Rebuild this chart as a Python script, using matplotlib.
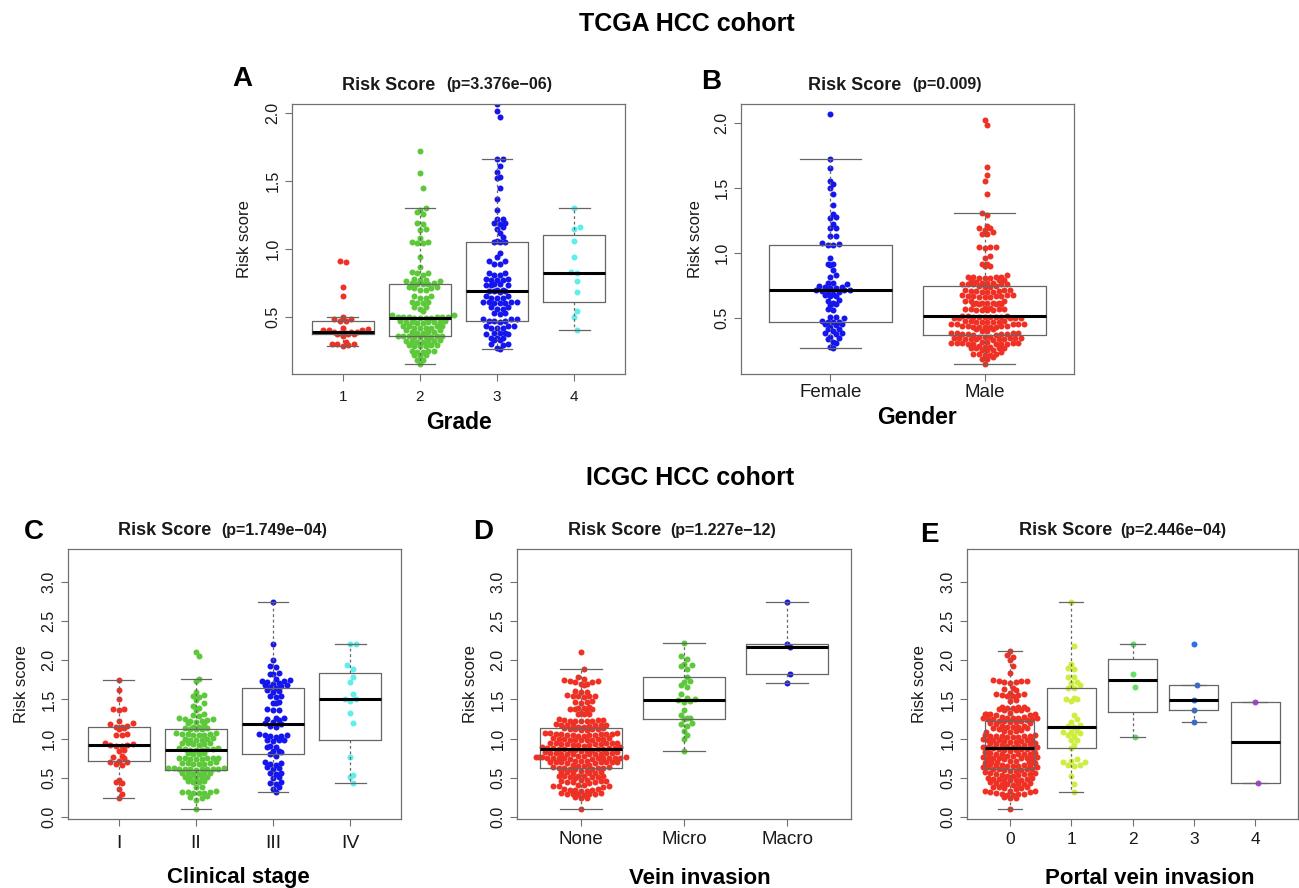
import numpy as np
import matplotlib
matplotlib.use("Agg")
import matplotlib.pyplot as plt

plt.rcParams["font.family"] = ["Liberation Sans", "DejaVu Sans"]

# ---------------- TCGA cohort: risk score by grade ----------------
grade_1 = [0.91, 0.90, 0.72, 0.65, 0.50, 0.48, 0.48, 0.47, 0.47, 0.42, 0.41, 0.40,
           0.40, 0.40, 0.39, 0.39, 0.39, 0.38, 0.38, 0.37, 0.37, 0.37, 0.36, 0.31,
           0.30, 0.30, 0.30, 0.29, 0.28]
grade_2 = [1.72, 1.56, 1.45, 1.30, 1.29, 1.27, 1.26, 1.19, 1.18, 1.15, 1.14, 1.08,
           1.05, 1.05, 1.04, 1.04, 0.94, 0.87,
           0.83, 0.82, 0.82, 0.81,
           0.78, 0.77, 0.77, 0.76, 0.76,
           0.75, 0.75, 0.74, 0.74, 0.74,
           0.72, 0.72, 0.71, 0.71, 0.70, 0.70,
           0.65, 0.65, 0.64, 0.64,
           0.61, 0.61, 0.60, 0.60,
           0.57, 0.57, 0.56, 0.54,
           0.51, 0.51, 0.50, 0.50, 0.50, 0.50, 0.50, 0.50, 0.49, 0.49, 0.49, 0.49,
           0.47, 0.47, 0.46, 0.46, 0.46, 0.46, 0.46, 0.45, 0.45,
           0.43, 0.43, 0.43, 0.43, 0.42, 0.42, 0.42, 0.42,
           0.40, 0.40, 0.39, 0.39, 0.39, 0.38, 0.38,
           0.36, 0.36, 0.36, 0.36, 0.36, 0.35, 0.35, 0.35, 0.35,
           0.33, 0.32, 0.32, 0.32, 0.32, 0.31, 0.31,
           0.29, 0.29, 0.29, 0.28, 0.28, 0.28,
           0.25, 0.25, 0.25, 0.24, 0.24,
           0.22, 0.22, 0.21,
           0.18, 0.18,
           0.15]
grade_3 = [2.07, 2.02, 1.97, 1.66, 1.66, 1.61, 1.57, 1.53, 1.52, 1.45, 1.37, 1.29,
           1.22, 1.22, 1.19, 1.19, 1.18, 1.16, 1.15, 1.12, 1.09, 1.06, 1.05, 1.05, 1.05,
           0.97, 0.94, 0.91, 0.91, 0.89, 0.89,
           0.82, 0.82, 0.81, 0.81,
           0.78, 0.78, 0.77, 0.77, 0.77,
           0.74, 0.74, 0.73, 0.73, 0.73,
           0.70, 0.70, 0.69, 0.69, 0.69, 0.68,
           0.65, 0.65, 0.64, 0.64, 0.64,
           0.61, 0.61, 0.61, 0.61, 0.60, 0.60, 0.60,
           0.57, 0.57, 0.56, 0.56,
           0.53, 0.53, 0.52,
           0.48, 0.48, 0.48, 0.47, 0.47, 0.47, 0.46,
           0.43, 0.43, 0.43, 0.42, 0.42, 0.42,
           0.38, 0.38, 0.38, 0.37, 0.37,
           0.34, 0.34, 0.34, 0.33, 0.33,
           0.30, 0.30, 0.29,
           0.27, 0.26]
grade_4 = [1.30, 1.16, 1.15, 1.06, 0.94, 0.83, 0.82, 0.76, 0.68, 0.54, 0.50, 0.40]

# ---------------- TCGA cohort: risk score by gender ----------------
female = [2.07, 1.72, 1.65, 1.55, 1.53, 1.50, 1.45, 1.37, 1.30, 1.28, 1.27, 1.22,
          1.19, 1.19, 1.13, 1.13, 1.08, 1.07, 1.06, 1.06,
          0.96, 0.92, 0.92, 0.91, 0.87, 0.83, 0.82,
          0.77, 0.77, 0.76, 0.75, 0.74, 0.74, 0.73, 0.73,
          0.72, 0.72, 0.72, 0.71, 0.70, 0.70,
          0.69, 0.68, 0.67, 0.67, 0.64, 0.63, 0.62, 0.61, 0.60, 0.57, 0.56,
          0.51, 0.51, 0.50,
          0.48, 0.47, 0.47, 0.47, 0.46, 0.46, 0.45,
          0.43, 0.42, 0.42,
          0.40, 0.39, 0.39, 0.38,
          0.36, 0.35, 0.34, 0.32, 0.31, 0.28, 0.27]
male = [2.02, 1.98, 1.66, 1.60, 1.55, 1.45,
        1.31, 1.29,
        1.21, 1.19, 1.19, 1.18, 1.16, 1.15, 1.15,
        1.05, 1.05, 1.05, 1.04,
        0.98, 0.96, 0.92, 0.92, 0.90, 0.90,
        0.83, 0.82, 0.82, 0.82, 0.82, 0.81, 0.81, 0.81,
        0.79, 0.79, 0.79, 0.78,
        0.77, 0.77, 0.77, 0.76, 0.76, 0.76, 0.76, 0.76,
        0.75, 0.75, 0.74, 0.74,
        0.72, 0.72, 0.72, 0.71, 0.71, 0.71, 0.70, 0.70, 0.70,
        0.68, 0.68, 0.68, 0.67, 0.67, 0.67, 0.67, 0.66, 0.66, 0.66,
        0.63, 0.63, 0.63, 0.62, 0.62, 0.62, 0.62, 0.62, 0.61, 0.61, 0.61, 0.61,
        0.58, 0.58, 0.57, 0.57, 0.57, 0.57, 0.56, 0.56, 0.56, 0.56,
        0.52, 0.52, 0.52, 0.51, 0.51, 0.51, 0.51, 0.51, 0.51, 0.50, 0.50, 0.50, 0.50, 0.50,
        0.48, 0.48, 0.48, 0.47, 0.47, 0.47, 0.47, 0.47, 0.46, 0.46, 0.46, 0.46, 0.46,
        0.44, 0.44, 0.44, 0.44, 0.43, 0.43, 0.43, 0.43, 0.43, 0.42, 0.42,
        0.40, 0.40, 0.39, 0.39, 0.39, 0.39, 0.38, 0.38, 0.38, 0.38, 0.37, 0.37,
        0.36, 0.36, 0.36, 0.35, 0.35, 0.35, 0.35, 0.35, 0.34, 0.34, 0.34, 0.34, 0.34, 0.33,
        0.32, 0.32, 0.31, 0.31, 0.31, 0.31, 0.31, 0.30, 0.30, 0.30, 0.30, 0.30, 0.29,
        0.28, 0.28, 0.27, 0.27, 0.27, 0.27, 0.26, 0.26, 0.26,
        0.24, 0.23, 0.23, 0.23, 0.22, 0.22,
        0.20, 0.19, 0.19,
        0.15]

# ---------------- ICGC cohort: risk score by clinical stage ----------------
stage_I = [1.75, 1.62, 1.50, 1.38, 1.38, 1.37, 1.23, 1.20, 1.19, 1.16, 1.15, 1.15,
           1.14, 1.13, 1.06, 1.05, 1.05, 0.95, 0.93, 0.92, 0.92, 0.91, 0.91, 0.86,
           0.85, 0.78, 0.77, 0.76, 0.72, 0.71, 0.70, 0.68, 0.67, 0.47, 0.45, 0.44,
           0.36, 0.30, 0.25]
stage_II = [2.11, 2.05, 1.76, 1.73,
            1.59, 1.56, 1.54, 1.53, 1.49,
            1.45, 1.42, 1.39, 1.36,
            1.31, 1.30, 1.29, 1.26, 1.25, 1.25, 1.24, 1.23, 1.22, 1.21, 1.20, 1.19,
            1.15, 1.15, 1.14, 1.14, 1.13, 1.13, 1.12,
            1.07, 1.07, 1.06, 1.06, 1.06, 1.05, 1.05, 1.05,
            1.01, 1.00, 1.00, 0.99, 0.99, 0.98,
            0.95, 0.94, 0.94, 0.93, 0.93, 0.92,
            0.88, 0.88, 0.87, 0.87, 0.87, 0.86, 0.86, 0.86,
            0.82, 0.82, 0.81, 0.80,
            0.76, 0.76, 0.75, 0.75, 0.75, 0.74, 0.74, 0.74,
            0.70, 0.69, 0.69, 0.69, 0.68, 0.68, 0.68,
            0.63, 0.63, 0.63, 0.62, 0.62, 0.62, 0.62, 0.61, 0.61, 0.61, 0.60,
            0.57, 0.56, 0.56, 0.56, 0.55, 0.55,
            0.51, 0.51, 0.50, 0.50, 0.50,
            0.46, 0.46, 0.45, 0.45,
            0.39, 0.38,
            0.33, 0.32, 0.32, 0.32, 0.31, 0.31, 0.31,
            0.27, 0.26, 0.25,
            0.22,
            0.11]
stage_III = [2.74, 2.21, 2.00, 1.92, 1.91, 1.84, 1.83, 1.82,
             1.76, 1.75, 1.74, 1.73, 1.72, 1.71, 1.70,
             1.69, 1.68, 1.67, 1.66, 1.65,
             1.62, 1.61, 1.60,
             1.55, 1.54, 1.53,
             1.47, 1.46, 1.45,
             1.38, 1.37, 1.36,
             1.27, 1.26, 1.25, 1.24,
             1.21, 1.20, 1.19,
             1.16, 1.15,
             1.06, 1.05, 1.05, 1.04, 1.03, 1.02,
             0.99, 0.98, 0.98, 0.97,
             0.91, 0.90, 0.89,
             0.85, 0.84, 0.83,
             0.80, 0.78,
             0.70, 0.69, 0.68, 0.67,
             0.64, 0.63, 0.62,
             0.57, 0.56, 0.55,
             0.51, 0.50,
             0.45, 0.44, 0.43,
             0.38, 0.36,
             0.32]
stage_IV = [2.21, 2.20, 1.94, 1.89, 1.79, 1.72, 1.57, 1.51, 1.50, 1.48, 1.33, 1.20,
            0.77, 0.54, 0.51, 0.44]

# ---------------- ICGC cohort: risk score by vein invasion ----------------
vein_none = [2.11,
             1.89,
             1.79, 1.76, 1.75, 1.73, 1.73, 1.72, 1.72, 1.70, 1.70, 1.69,
             1.61, 1.60, 1.59,
             1.56, 1.55, 1.55, 1.54, 1.54, 1.53,
             1.48, 1.47, 1.47, 1.46,
             1.40, 1.39, 1.39, 1.38, 1.38, 1.38, 1.37,
             1.33, 1.32, 1.32, 1.31,
             1.25, 1.24, 1.24, 1.24, 1.23, 1.23, 1.23, 1.22, 1.22,
             1.19, 1.18, 1.18, 1.18, 1.17, 1.17, 1.17, 1.16,
             1.15, 1.15, 1.14, 1.14, 1.13, 1.13, 1.12, 1.12, 1.11, 1.11,
             1.07, 1.07, 1.07, 1.06, 1.06, 1.06, 1.06, 1.06, 1.05, 1.05, 1.05, 1.05, 1.04, 1.04,
             1.01, 1.01, 1.00, 1.00, 1.00, 1.00, 0.99, 0.99, 0.99, 0.98, 0.98,
             0.95, 0.95, 0.94, 0.94, 0.94, 0.93, 0.93, 0.93, 0.93, 0.92, 0.92, 0.92, 0.91,
             0.89, 0.89, 0.88, 0.88, 0.88, 0.88, 0.87, 0.87, 0.87, 0.87, 0.86, 0.86, 0.86, 0.85, 0.85,
             0.83, 0.83, 0.82, 0.82, 0.82, 0.82, 0.81, 0.81, 0.81, 0.80, 0.80, 0.80,
             0.78, 0.78, 0.77, 0.77, 0.77, 0.77, 0.76, 0.76, 0.76, 0.76, 0.76, 0.75, 0.75, 0.75,
             0.75, 0.74, 0.74,
             0.72, 0.72, 0.72, 0.71, 0.71, 0.71, 0.71, 0.70, 0.70, 0.70, 0.69, 0.69,
             0.66, 0.66, 0.65, 0.65, 0.64, 0.64, 0.63, 0.63, 0.63, 0.63, 0.62, 0.62, 0.62,
             0.59, 0.59, 0.58, 0.58, 0.58, 0.57, 0.57, 0.57,
             0.53, 0.53, 0.52, 0.52, 0.52, 0.51, 0.51, 0.51, 0.50,
             0.47, 0.47, 0.46, 0.46, 0.46, 0.45, 0.45, 0.45, 0.44,
             0.41, 0.41, 0.40, 0.40, 0.40, 0.39,
             0.36, 0.36, 0.35, 0.35, 0.35, 0.34, 0.34,
             0.31, 0.31, 0.30, 0.30, 0.30, 0.29, 0.29, 0.28,
             0.26, 0.25, 0.25,
             0.11]
vein_micro = [2.22, 2.05, 2.01, 1.95, 1.94, 1.92, 1.89, 1.78, 1.73, 1.72, 1.68, 1.66,
              1.57, 1.52, 1.50, 1.49, 1.48, 1.47, 1.36, 1.30, 1.27, 1.26, 1.25, 1.20,
              1.19, 1.16, 1.10, 1.05, 1.00, 0.84]
vein_macro = [2.74, 2.20, 2.17, 1.82, 1.71]

# ---------------- ICGC cohort: risk score by portal vein invasion ----------------
pvi_0 = [2.12, 2.06, 2.04, 2.00, 1.92, 1.84,
         1.75, 1.74, 1.74, 1.73, 1.72, 1.72, 1.71,
         1.64, 1.63, 1.62,
         1.58, 1.57, 1.57, 1.56, 1.56, 1.55, 1.55,
         1.49, 1.48,
         1.41, 1.40, 1.40, 1.39, 1.39, 1.38, 1.38, 1.37, 1.37, 1.36,
         1.33, 1.32, 1.32, 1.31, 1.31, 1.30, 1.30,
         1.28, 1.28, 1.27, 1.27, 1.27, 1.26, 1.26, 1.25, 1.25, 1.25, 1.24,
         1.23, 1.22, 1.22, 1.21, 1.21, 1.20, 1.20, 1.19,
         1.16, 1.16, 1.15, 1.15, 1.15, 1.14, 1.14, 1.13,
         1.11, 1.10, 1.10, 1.09, 1.08,
         1.05, 1.05, 1.04, 1.04, 1.04, 1.03, 1.03, 1.02, 1.02, 1.02,
         1.00, 0.99, 0.99, 0.98, 0.98, 0.98, 0.97, 0.97, 0.96, 0.96,
         0.94, 0.94, 0.93, 0.93, 0.92, 0.92, 0.91, 0.91,
         0.90, 0.89, 0.89, 0.89, 0.88, 0.88, 0.88, 0.87, 0.87, 0.87, 0.86, 0.86,
         0.84, 0.83, 0.83, 0.83, 0.82, 0.82, 0.81, 0.81, 0.81, 0.80, 0.80,
         0.78, 0.78, 0.77, 0.77, 0.77, 0.76, 0.76, 0.76, 0.75, 0.75, 0.75, 0.74,
         0.72, 0.72, 0.71, 0.71, 0.70, 0.70, 0.70, 0.69, 0.69, 0.68,
         0.67, 0.67, 0.66, 0.66, 0.65, 0.65, 0.65, 0.64, 0.64, 0.64,
         0.62, 0.62, 0.61, 0.61, 0.60, 0.60, 0.59, 0.59, 0.58,
         0.56, 0.56, 0.55, 0.55, 0.55, 0.54, 0.54, 0.53, 0.53,
         0.50, 0.50, 0.49, 0.49, 0.49, 0.48, 0.48, 0.47, 0.47,
         0.45, 0.44, 0.44, 0.43, 0.43, 0.42, 0.42, 0.41,
         0.39, 0.38, 0.38, 0.37, 0.37, 0.36,
         0.34, 0.33, 0.33, 0.32, 0.32, 0.31,
         0.30, 0.29, 0.29, 0.28, 0.28,
         0.26, 0.25, 0.24,
         0.11]
pvi_1 = [2.74, 2.18, 1.95, 1.90, 1.89, 1.78, 1.78, 1.72, 1.71, 1.69, 1.65, 1.64,
         1.52, 1.51, 1.50, 1.48, 1.30, 1.25, 1.21, 1.17, 1.16, 1.15, 1.10, 1.09,
         1.08, 1.07, 1.05, 1.04, 0.99, 0.98, 0.92, 0.88, 0.74, 0.72, 0.71, 0.70,
         0.67, 0.66, 0.65, 0.52, 0.42, 0.32]
pvi_2 = [2.21, 1.83, 1.66, 1.02]
pvi_3 = [2.21, 1.69, 1.49, 1.36, 1.21]
pvi_4 = [1.47, 0.44]

grade_labels = ["1", "2", "3", "4"]
gender_labels = ["Female", "Male"]
stage_labels = ["I", "II", "III", "IV"]
vein_labels = ["None", "Micro", "Macro"]
pvi_labels = ["0", "1", "2", "3", "4"]

p_values = {"A": "(p=3.376e\u221206)", "B": "(p=0.009)", "C": "(p=1.749e\u221204)",
            "D": "(p=1.227e\u221212)", "E": "(p=2.446e\u221204)"}

# ---------------- styling ----------------
RED, GREEN, BLUE, CYAN = "#EE3124", "#5CC83A", "#1515EE", "#5EEEEE"
RAINBOW5 = ["#EE3124", "#CDEE3E", "#66DF6A", "#2A70EE", "#B23CEF"]
BOX_GREY = "#666666"
SPACING = 5.6   # centre-to-centre distance of neighbouring dots, pixels
DOT_D = 6.0     # drawn dot diameter, pixels

W, H = 1299, 888
fig = plt.figure(figsize=(W / 100, H / 100), dpi=100)
fig.patch.set_facecolor("white")


def fx(x):
    return x / W


def fy(y):
    return 1 - y / H


def hex_offsets(vals, ky, d):
    """Beeswarm 'hex' layout: points share rows of height d*sqrt(3)/2,
    odd rows are shifted by half a step."""
    v = np.asarray(vals, float)
    step = d * np.sqrt(3) / 2 / ky
    row = np.round(v / step).astype(int)
    off = np.zeros(len(v))
    for k in np.unique(row):
        members = np.where(row == k)[0]
        members = members[np.argsort(v[members], kind="stable")]
        n = len(members)
        base = 0.5 if k % 2 else 0.0
        seq = []
        j = 0
        while len(seq) < n:
            if base == 0.0:
                seq += [0.0] if j == 0 else [j, -j]
            else:
                seq += [j + 0.5, -(j + 0.5)]
            j += 1
        off[members] = np.array(seq[:n]) * d
    return off


def fivenum(v):
    x = np.sort(np.asarray(v, float))
    n = len(x)
    n4 = np.floor((n + 3) / 2) / 2
    d = np.array([1, n4, (n + 1) / 2, n + 1 - n4, n]) - 1
    return 0.5 * (x[np.floor(d).astype(int)] + x[np.ceil(d).astype(int)])


def box_stats(v):
    v = np.asarray(v, float)
    f = fivenum(v)
    spread = f[3] - f[1]
    lo = v[v >= f[1] - 1.5 * spread].min()
    hi = v[v <= f[3] + 1.5 * spread].max()
    return {"med": f[2], "q1": f[1], "q3": f[3], "whislo": lo, "whishi": hi, "fliers": []}


def panel(box, xlim, ylim, yticks, groups, colors, cats, cat_size, cat_pad,
          letter, letter_xy, p_text, gap, sub_base, xlabel, xlabel_xy, xlabel_size, ylab_x):
    l, t, r, b = box
    ax = fig.add_axes([fx(l), fy(b), (r - l) / W, (b - t) / H])
    ax.set_xlim(*xlim)
    ax.set_ylim(*ylim)
    kx = (r - l) / (xlim[1] - xlim[0])
    ky = (b - t) / (ylim[1] - ylim[0])
    half = 0.45 * kx
    stats = []
    for i, (vals, col) in enumerate(zip(groups, colors)):
        v = np.asarray(vals, float)
        off = hex_offsets(v, ky, SPACING)
        off = np.where(np.abs(off) > half, ((off + half) % (2 * half)) - half, off)
        ax.scatter(i + 1 + off / kx, v, s=(DOT_D * 0.72) ** 2, color=col,
                   linewidths=0, zorder=2)
        stats.append(box_stats(v))
    ax.bxp(stats, positions=np.arange(1, len(groups) + 1), widths=0.8, capwidths=0.4,
           showfliers=False, manage_ticks=False, zorder=3,
           boxprops=dict(color=BOX_GREY, linewidth=0.9),
           whiskerprops=dict(color=BOX_GREY, linewidth=0.9, linestyle=(0, (2.2, 2.2))),
           capprops=dict(color=BOX_GREY, linewidth=0.9),
           medianprops=dict(color="black", linewidth=2.2, solid_capstyle="butt"))
    for s in ax.spines.values():
        s.set_color("#707070")
        s.set_linewidth(0.9)
    ax.set_xticks(np.arange(1, len(groups) + 1))
    ax.set_xticklabels(cats, fontsize=cat_size, color="#1a1a1a")
    ax.set_yticks(yticks)
    ax.set_yticklabels([f"{y:.1f}" for y in yticks], fontsize=11.5, color="#1a1a1a",
                       rotation=90, va="center")
    ax.tick_params(axis="x", length=5, width=0.8, color="#707070", pad=cat_pad)
    ax.tick_params(axis="y", length=5, width=0.8, color="#707070", pad=3.4)
    fig.text(fx(ylab_x), fy((t + b) / 2), "Risk score", rotation=90, fontsize=12,
             ha="center", va="center", color="#1a1a1a")
    fig.text(fx(letter_xy[0]), fy(letter_xy[1]), letter, fontsize=20, weight="bold",
             ha="left", va="baseline")
    fig.text(fx(gap[0]), fy(sub_base), "Risk Score", fontsize=13, weight="bold",
             ha="right", va="baseline", color="#1a1a1a")
    fig.text(fx(gap[1]), fy(sub_base), p_text, fontsize=11.5, weight="bold",
             family=["Liberation Sans Narrow", "Liberation Sans", "DejaVu Sans"],
             ha="left", va="baseline", color="#1a1a1a")
    fig.text(fx(xlabel_xy[0]), fy(xlabel_xy[1]), xlabel, fontsize=xlabel_size,
             weight="bold", ha="center", va="baseline")
    return ax


top_ticks = [0.5, 1.0, 1.5, 2.0]
low_ticks = [0.0, 0.5, 1.0, 1.5, 2.0, 2.5, 3.0]

panel((292, 104, 625, 374), (0.34, 4.66), (0.077, 2.069), top_ticks,
      [grade_1, grade_2, grade_3, grade_4], [RED, GREEN, BLUE, CYAN], grade_labels, 11, 6.2,
      "A", (232.7, 86.5), p_values["A"], (435, 446), 89.5, "Grade", (459, 428.5), 16.5, 245)
panel((741, 104, 1074, 374), (0.42, 2.58), (0.073, 2.143), top_ticks,
      [female, male], [BLUE, RED], gender_labels, 13.5, 2.2,
      "B", (700.7, 89), p_values["B"], (901, 912), 89.5, "Gender", (917, 424), 16.5, 695)
panel((68, 549, 401, 819), (0.34, 4.66), (-0.022, 3.416), low_ticks,
      [stage_I, stage_II, stage_III, stage_IV], [RED, GREEN, BLUE, CYAN], stage_labels, 14, 6.2,
      "C", (24, 539.3), p_values["C"], (211, 221), 535, "Clinical stage", (238, 883), 16, 21.7)
panel((517, 549, 851, 819), (0.38, 3.62), (-0.022, 3.416), low_ticks,
      [vein_none, vein_micro, vein_macro], [RED, GREEN, BLUE], vein_labels, 13.5, 3.9,
      "D", (472.7, 539.3), p_values["D"], (661, 670), 535, "Vein invasion", (700, 884), 16, 470.7)
panel((967, 549, 1298, 819), (0.3, 5.7), (-0.022, 3.416), low_ticks,
      [pvi_0, pvi_1, pvi_2, pvi_3, pvi_4], RAINBOW5, pvi_labels, 12.5, 4.1,
      "E", (920, 542), p_values["E"], (1112, 1120), 535, "Portal vein invasion", (1150, 884), 16, 920)

fig.text(fx(686.5), fy(31), "TCGA HCC cohort", fontsize=18, weight="bold",
         ha="center", va="baseline")
fig.text(fx(690), fy(485), "ICGC HCC cohort", fontsize=18, weight="bold",
         ha="center", va="baseline")

fig.savefig("out.png", dpi=100, facecolor="white")
